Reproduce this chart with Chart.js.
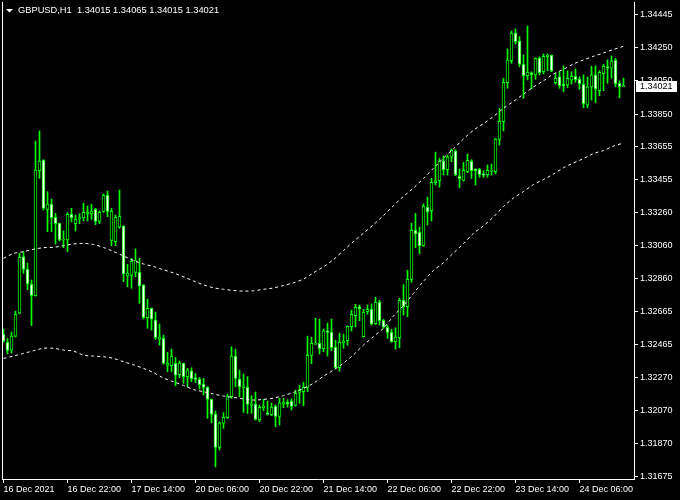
<!DOCTYPE html>
<html><head><meta charset="utf-8">
<script src="https://cdn.jsdelivr.net/npm/chart.js@4/dist/chart.umd.min.js"></script>
<style>html,body{margin:0;padding:0;background:#000;overflow:hidden}canvas{display:block}</style>
</head><body>
<canvas id="c" width="680" height="500"></canvas>
<script>
const symbolTitle = 'GBPUSD,H1';
const lastBar = ['1.34015', '1.34065', '1.34015', '1.34021'];
const lastPrice = 1.34021;

const openP = [1.32528,1.32479,1.32433,1.32517,1.32654,1.32994,1.32920,1.32828,1.32759,1.33510,
1.33574,1.33278,1.33310,1.33230,1.33194,1.33094,1.33094,1.33248,1.33192,1.33222,
1.33226,1.33252,1.33252,1.33278,1.33206,1.33266,1.33362,1.33092,1.33084,1.33172,
1.33178,1.32879,1.32882,1.32900,1.32900,1.32824,1.32627,1.32684,1.32613,1.32499,
1.32504,1.32341,1.32339,1.32353,1.32285,1.32353,1.32273,1.32307,1.32267,1.32259,
1.32229,1.32211,1.32137,1.32049,1.31849,1.31993,1.32027,1.32153,1.32397,1.32259,
1.32209,1.32211,1.32101,1.32109,1.32013,1.32087,1.32057,1.32043,1.32095,1.32035,
1.32109,1.32121,1.32127,1.32101,1.32179,1.32183,1.32209,1.32401,1.32468,1.32474,
1.32441,1.32549,1.32539,1.32451,1.32327,1.32477,1.32489,1.32573,1.32639,1.32692,
1.32513,1.32663,1.32678,1.32591,1.32721,1.32612,1.32570,1.32539,1.32483,1.32507,
1.32732,1.32693,1.32858,1.33152,1.33140,1.33060,1.33292,1.33270,1.33438,1.33450,
1.33568,1.33516,1.33592,1.33628,1.33476,1.33452,1.33504,1.33566,1.33520,1.33518,
1.33490,1.33486,1.33508,1.33504,1.33698,1.33804,1.34038,1.34170,1.34337,1.34289,
1.34149,1.34080,1.34098,1.34085,1.34187,1.34104,1.34194,1.34203,1.34038,1.34073,
1.34029,1.34025,1.34053,1.34077,1.34061,1.34029,1.33904,1.34013,1.34085,1.33990,
1.34092,1.34135,1.34125,1.34175,1.34035,1.34015];

const highP = [1.32559,1.32503,1.32541,1.32667,1.33014,1.33024,1.32956,1.32854,1.33688,1.33748,
1.33576,1.33384,1.33340,1.33254,1.33196,1.33148,1.33258,1.33284,1.33244,1.33252,
1.33314,1.33298,1.33308,1.33284,1.33268,1.33370,1.33388,1.33284,1.33244,1.33394,
1.33180,1.32948,1.32984,1.33040,1.32984,1.32826,1.32738,1.32686,1.32661,1.32589,
1.32523,1.32419,1.32439,1.32389,1.32367,1.32355,1.32323,1.32327,1.32293,1.32269,
1.32263,1.32213,1.32139,1.32067,1.32003,1.32057,1.32169,1.32453,1.32439,1.32313,
1.32289,1.32273,1.32159,1.32181,1.32103,1.32137,1.32127,1.32115,1.32103,1.32143,
1.32143,1.32135,1.32139,1.32193,1.32223,1.32239,1.32517,1.32510,1.32624,1.32619,
1.32559,1.32595,1.32619,1.32493,1.32535,1.32528,1.32579,1.32673,1.32708,1.32704,
1.32678,1.32704,1.32710,1.32751,1.32732,1.32618,1.32583,1.32558,1.32567,1.32744,
1.32826,1.32912,1.33194,1.33254,1.33172,1.33310,1.33352,1.33464,1.33622,1.33584,
1.33598,1.33604,1.33640,1.33636,1.33520,1.33560,1.33610,1.33576,1.33522,1.33524,
1.33510,1.33544,1.33550,1.33704,1.33885,1.34065,1.34241,1.34349,1.34361,1.34315,
1.34205,1.34379,1.34104,1.34188,1.34194,1.34211,1.34211,1.34205,1.34095,1.34104,
1.34140,1.34109,1.34104,1.34121,1.34074,1.34085,1.34073,1.34137,1.34139,1.34109,
1.34149,1.34175,1.34199,1.34185,1.34050,1.34065];

const lowP = [1.32481,1.32411,1.32415,1.32511,1.32651,1.32894,1.32795,1.32579,1.32757,1.33464,
1.33274,1.33144,1.33144,1.33070,1.33088,1.33048,1.33024,1.33202,1.33148,1.33192,
1.33208,1.33208,1.33218,1.33186,1.33192,1.33260,1.33234,1.33060,1.33060,1.33164,
1.32843,1.32813,1.32804,1.32873,1.32714,1.32619,1.32564,1.32553,1.32497,1.32463,
1.32349,1.32303,1.32303,1.32219,1.32267,1.32233,1.32213,1.32243,1.32237,1.32199,
1.32163,1.32023,1.31997,1.31732,1.31833,1.31963,1.32023,1.32143,1.32213,1.32153,
1.32059,1.32053,1.32053,1.32013,1.32003,1.32069,1.32043,1.32039,1.31973,1.31983,
1.32087,1.32091,1.32073,1.32097,1.32113,1.32099,1.32183,1.32351,1.32466,1.32409,
1.32423,1.32397,1.32429,1.32323,1.32307,1.32444,1.32463,1.32547,1.32573,1.32609,
1.32511,1.32648,1.32583,1.32588,1.32583,1.32564,1.32504,1.32480,1.32439,1.32447,
1.32643,1.32633,1.32840,1.33048,1.33011,1.33056,1.33184,1.33208,1.33424,1.33412,
1.33484,1.33484,1.33564,1.33480,1.33408,1.33448,1.33498,1.33464,1.33424,1.33470,
1.33470,1.33472,1.33484,1.33490,1.33664,1.33748,1.34005,1.34155,1.34271,1.34134,
1.33945,1.34055,1.34001,1.34059,1.34085,1.34092,1.34110,1.34104,1.34029,1.34005,
1.33984,1.34008,1.34031,1.34041,1.33999,1.33888,1.33888,1.33934,1.33918,1.33960,
1.33990,1.34035,1.34065,1.34014,1.33948,1.34015];

const closeP = [1.32487,1.32431,1.32517,1.32648,1.32990,1.32918,1.32831,1.32759,1.33514,1.33568,
1.33284,1.33310,1.33228,1.33192,1.33094,1.33098,1.33248,1.33228,1.33218,1.33228,
1.33260,1.33260,1.33268,1.33206,1.33260,1.33362,1.33266,1.33266,1.33230,1.33236,
1.32891,1.32896,1.32966,1.32970,1.32819,1.32627,1.32684,1.32618,1.32507,1.32511,
1.32353,1.32355,1.32397,1.32283,1.32355,1.32273,1.32313,1.32261,1.32257,1.32225,
1.32209,1.32137,1.32047,1.31849,1.31997,1.32029,1.32153,1.32397,1.32263,1.32213,
1.32219,1.32107,1.32111,1.32016,1.32089,1.32097,1.32047,1.32091,1.32035,1.32117,
1.32121,1.32109,1.32095,1.32173,1.32191,1.32209,1.32401,1.32474,1.32475,1.32441,
1.32549,1.32539,1.32447,1.32327,1.32479,1.32487,1.32576,1.32648,1.32690,1.32681,
1.32660,1.32678,1.32589,1.32721,1.32610,1.32570,1.32539,1.32483,1.32511,1.32732,
1.32693,1.32858,1.33152,1.33130,1.33060,1.33296,1.33262,1.33440,1.33450,1.33568,
1.33516,1.33592,1.33632,1.33486,1.33462,1.33512,1.33572,1.33510,1.33510,1.33486,
1.33484,1.33512,1.33514,1.33700,1.33807,1.34041,1.34175,1.34337,1.34285,1.34149,
1.34080,1.34101,1.34086,1.34185,1.34098,1.34197,1.34205,1.34110,1.34065,1.34020,
1.34019,1.34065,1.34077,1.34056,1.34032,1.33912,1.34013,1.34085,1.34001,1.34101,
1.34139,1.34125,1.34169,1.34032,1.34014,1.34021];

const bandIdx = [0,2.5,5,7.5,10,12.5,15,17.5,20,22.5,25,27.5,30,32.5,35,37.5,40,42.5,45,47.5,
50,52.5,55,57.5,60,62.5,65,67.5,70,72.5,75,77.5,80,82.5,85,87.5,90,92.5,95,97.5,
100,102.5,105,107.5,110,112.5,115,117.5,120,122.5,125,127.5,130,132.5,135,137.5,140,142.5,145,147.5,
150,152.5,155];

const upperBand = [1.32984,1.33013,1.33024,1.33038,1.33048,1.33050,1.33060,1.33070,1.33074,1.33067,
1.33049,1.33025,1.32998,1.32971,1.32950,1.32935,1.32915,1.32896,1.32873,1.32848,
1.32825,1.32807,1.32798,1.32791,1.32787,1.32789,1.32798,1.32806,1.32821,1.32837,
1.32860,1.32897,1.32933,1.32977,1.33031,1.33085,1.33135,1.33186,1.33241,1.33301,
1.33356,1.33407,1.33464,1.33525,1.33586,1.33642,1.33701,1.33753,1.33793,1.33836,
1.33885,1.33926,1.33970,1.34013,1.34050,1.34091,1.34119,1.34151,1.34175,1.34197,
1.34217,1.34238,1.34257];

const lowerBand = [1.32383,1.32397,1.32413,1.32429,1.32444,1.32444,1.32433,1.32427,1.32403,1.32397,
1.32393,1.32383,1.32363,1.32345,1.32323,1.32298,1.32265,1.32243,1.32221,1.32196,
1.32183,1.32169,1.32157,1.32149,1.32140,1.32133,1.32137,1.32145,1.32160,1.32179,
1.32203,1.32234,1.32276,1.32313,1.32355,1.32405,1.32463,1.32514,1.32565,1.32638,
1.32700,1.32774,1.32846,1.32911,1.32958,1.33016,1.33072,1.33134,1.33179,1.33233,
1.33295,1.33346,1.33385,1.33427,1.33457,1.33490,1.33528,1.33556,1.33583,1.33613,
1.33631,1.33658,1.33676];

const priceTicks = [1.34445,1.34250,1.34050,1.33850,1.33655,1.33455,1.33260,1.33060,
1.32860,1.32665,1.32465,1.32270,1.32070,1.31870,1.31675];

const timeTickIdx = [0,16,32,48,64,80,96,112,128,144];
const timeLabels = ['16 Dec 2021','16 Dec 22:00','17 Dec 14:00','20 Dec 06:00','20 Dec 22:00',
'21 Dec 14:00','22 Dec 06:00','22 Dec 22:00','23 Dec 14:00','24 Dec 06:00'];

const wickData = highP.map((h, i) => ({x: i, y: [lowP[i], h]}));
const bodyData = openP.map((o, i) => ({x: i, y: [o, closeP[i]]}));
const bodyFill = openP.map((o, i) => closeP[i] < o ? '#ffffff' : '#000000');
const upperData = upperBand.map((v, k) => ({x: bandIdx[k], y: v}));
const lowerData = lowerBand.map((v, k) => ({x: bandIdx[k], y: v}));

const FONT = '"Liberation Sans", Arial, sans-serif';

const mtPlugin = {
  id: 'mt',
  beforeDraw(chart) {
    const c = chart.ctx;
    c.save(); c.fillStyle = '#000'; c.fillRect(0, 0, chart.width, chart.height); c.restore();
  },
  afterDraw(chart) {
    const c = chart.ctx, a = chart.chartArea, ys = chart.scales.y;
    c.save();
    c.strokeStyle = '#fff'; c.lineWidth = 1;
    c.beginPath(); c.moveTo(a.left + 0.5, a.top); c.lineTo(a.left + 0.5, a.bottom); c.stroke();
    c.fillStyle = '#fff';
    c.beginPath(); c.moveTo(6, 9); c.lineTo(13, 9); c.lineTo(9.5, 12.5); c.closePath(); c.fill();
    c.font = '9.3px ' + FONT; c.textBaseline = 'middle'; c.textAlign = 'left';
    c.fillText(symbolTitle + '  ' + lastBar.join(' '), 18, 10.5);
    const py = Math.round(ys.getPixelForValue(lastPrice));
    c.fillStyle = '#fff'; c.fillRect(a.right + 2, py - 5, 41, 11);
    c.fillStyle = '#000'; c.font = '9px ' + FONT; c.fillText(lastPrice.toFixed(5), a.right + 6, py + 0.5);
    c.restore();
  }
};

new Chart(document.getElementById('c'), {
  type: 'bar',
  data: {
    datasets: [
      {type: 'line', data: upperData, borderColor: '#ffffff', borderWidth: 1, borderDash: [3, 3],
       pointRadius: 0, tension: 0.3, fill: false, order: 0},
      {type: 'line', data: lowerData, borderColor: '#ffffff', borderWidth: 1, borderDash: [3, 3],
       pointRadius: 0, tension: 0.3, fill: false, order: 0},
      {type: 'bar', data: bodyData, backgroundColor: bodyFill, borderColor: '#00ff00', borderWidth: 1,
       borderSkipped: false, barThickness: 3, grouped: false, order: 1},
      {type: 'bar', data: wickData, backgroundColor: '#00ff00', borderWidth: 0,
       barThickness: 1, grouped: false, order: 2}
    ]
  },
  options: {
    responsive: false, animation: false, devicePixelRatio: 1,
    layout: {padding: {left: 2, top: 2, right: 0, bottom: 0}},
    plugins: {legend: {display: false}, tooltip: {enabled: false}},
    scales: {
      x: {
        type: 'linear', min: -0.375, max: 157.625, offset: false,
        grid: {display: true, offset: false, drawOnChartArea: false, drawTicks: true, tickLength: 4, color: '#ffffff'},
        border: {display: true, color: '#ffffff'},
        ticks: {color: '#ffffff', font: {family: FONT, size: 9}, align: 'start', maxRotation: 0, minRotation: 0,
          autoSkip: false, padding: 1, callback: (v, i) => timeLabels[i]},
        afterBuildTicks: (s) => { s.ticks = timeTickIdx.map(v => ({value: v})); },
        afterFit: (s) => { s.height = 21; s.paddingLeft = 0; s.paddingRight = 0; }
      },
      y: {
        type: 'linear', position: 'right', min: 1.31659, max: 1.34523, beginAtZero: false,
        grid: {display: true, drawOnChartArea: false, drawTicks: true, tickLength: 4, color: '#ffffff'},
        border: {display: true, color: '#ffffff'},
        ticks: {color: '#ffffff', font: {family: FONT, size: 9}, padding: 2, autoSkip: false,
          callback: (v) => Number(v).toFixed(5)},
        afterBuildTicks: (s) => { s.ticks = priceTicks.map(v => ({value: v})); },
        afterFit: (s) => { s.width = 46; s.paddingTop = 0; s.paddingBottom = 0; }
      }
    }
  },
  plugins: [mtPlugin]
});
</script>
</body></html>
